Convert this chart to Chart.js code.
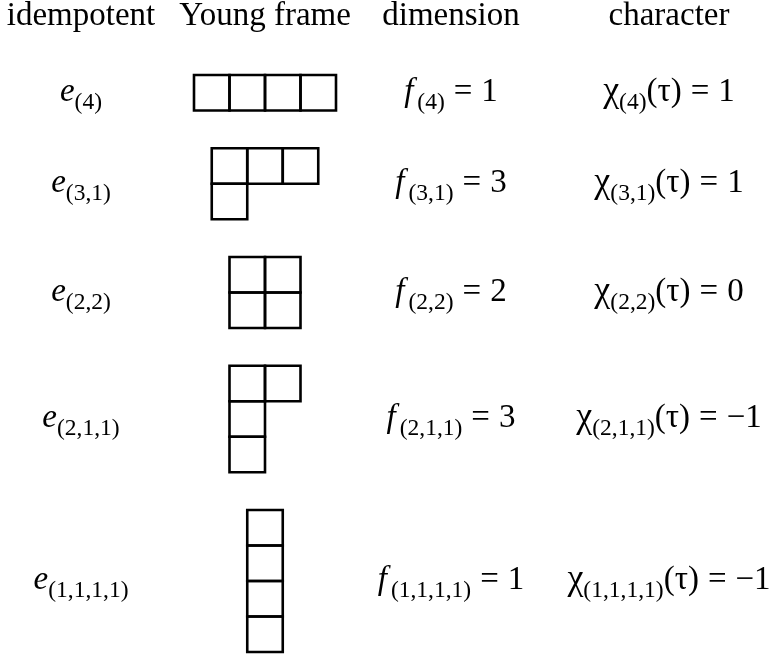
<!DOCTYPE html>
<html>
<head>
<meta charset="utf-8">
<script src="https://cdn.jsdelivr.net/npm/chart.js@4"></script>
<style>
  html, body { margin: 0; padding: 0; background: #fff; }
  #wrap { width: 779px; height: 654px; }
</style>
</head>
<body>
<div id="wrap"><canvas id="youngChart" width="779" height="654"></canvas></div>
<script>
// Table data: partitions of 4, dimension of each irrep, character at a transposition
const headers = ['idempotent', 'Young frame', 'dimension', 'character'];
const partitions = [[4], [3, 1], [2, 2], [2, 1, 1], [1, 1, 1, 1]];
const dimensions = [1, 3, 2, 3, 1];
const characters = [1, 1, 0, -1, -1];

// layout, in canvas pixels (the axes run 0..779 and 0..654)
const colX = [81, 265, 451, 669];
const headerY = 25;
const cellSize = 35.5;
const firstTop = 75;
const rowGap = 37.75;
const mainSize = 33;
const subSize = 23.5;
const subDrop = 8;
const serif = '"Liberation Serif", "Times New Roman", serif';

// vertical centre of each row = centre of its Young frame
const rowCenters = [];
let rowTop = firstTop;
for (const p of partitions) {
    const h = p.length * cellSize;
    rowCenters.push(rowTop + h / 2);
    rowTop += h + rowGap;
}

// one point per box of each frame
const cells = [];
partitions.forEach((p, r) => {
    const w = p[0];
    p.forEach((len, i) => {
        for (let j = 0; j < len; j++) {
            cells.push({
                x: colX[1] + (j - (w - 1) / 2) * cellSize,
                y: rowCenters[r] + (i - (p.length - 1) / 2) * cellSize
            });
        }
    });
});

function fmt(v) {
    return v < 0 ? '\u2212' + Math.abs(v) : String(v);
}

function sub(p) {
    return { text: '(' + p.join(',') + ')', size: subSize, dy: subDrop };
}

// draws a row of text pieces centred on cx
function drawMath(ctx, pieces, cx, baseline) {
    let total = 0;
    for (const p of pieces) {
        ctx.font = (p.italic ? 'italic ' : '') + (p.size || mainSize) + 'px ' + serif;
        p.w = (p.padL || 0) + ctx.measureText(p.text).width + (p.padR || 0);
        total += p.w;
    }
    let x = cx - total / 2;
    for (const p of pieces) {
        ctx.font = (p.italic ? 'italic ' : '') + (p.size || mainSize) + 'px ' + serif;
        ctx.fillText(p.text, x + (p.padL || 0), baseline + (p.dy || 0));
        x += p.w;
    }
}

const tableText = {
    id: 'tableText',
    afterDatasetsDraw(chart) {
        const ctx = chart.ctx;
        const xs = chart.scales.x;
        const ys = chart.scales.y;
        ctx.save();
        ctx.fillStyle = '#000';
        ctx.textAlign = 'left';
        ctx.textBaseline = 'alphabetic';

        headers.forEach((h, c) => {
            drawMath(ctx, [{ text: h }], xs.getPixelForValue(colX[c]), ys.getPixelForValue(headerY));
        });

        const eq = { text: '=', padL: 9, padR: 9 };
        partitions.forEach((p, r) => {
            const base = ys.getPixelForValue(rowCenters[r] + 8);
            drawMath(ctx, [{ text: 'e', italic: true }, sub(p)], xs.getPixelForValue(colX[0]), base);
            drawMath(ctx, [{ text: 'f', italic: true, padR: 4 }, sub(p), eq, { text: fmt(dimensions[r]) }],
                xs.getPixelForValue(colX[2]), base);
            drawMath(ctx, [{ text: '\u03C7', size: 36 }, sub(p), { text: '(\u03C4)' }, eq, { text: fmt(characters[r]) }],
                xs.getPixelForValue(colX[3]), base);
        });
        ctx.restore();
    }
};

const ctx = document.getElementById('youngChart').getContext('2d');
const youngChart = new Chart(ctx, {
    type: 'scatter',
    data: {
        datasets: [{
            data: cells,
            pointStyle: 'rect',
            pointRadius: cellSize / Math.SQRT2,
            pointHoverRadius: cellSize / Math.SQRT2,
            borderColor: '#000',
            backgroundColor: 'rgba(0,0,0,0)',
            borderWidth: 2.6
        }]
    },
    options: {
        responsive: false,
        animation: false,
        events: [],
        layout: { padding: 0, autoPadding: false },
        plugins: {
            legend: { display: false },
            tooltip: { enabled: false }
        },
        scales: {
            x: { type: 'linear', min: 0, max: 779, display: false },
            y: { type: 'linear', min: 0, max: 654, reverse: true, display: false }
        }
    },
    plugins: [tableText]
});
</script>
</body>
</html>
